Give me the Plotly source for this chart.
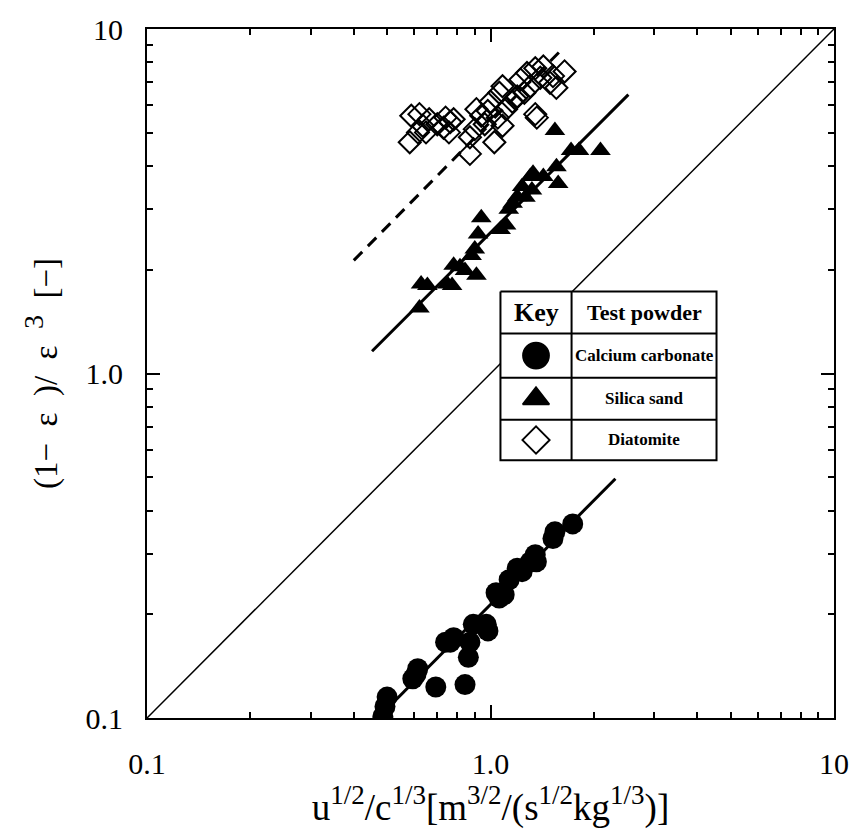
import plotly.graph_objects as go

# ---------------- data ----------------
calcium_x = [0.486, 0.493, 0.50, 0.594, 0.607, 0.614, 0.693, 0.843, 0.74, 0.764, 0.781,
             0.862, 0.871, 0.891, 0.972, 0.983, 1.038, 1.06, 1.096, 1.133, 1.196, 1.236,
             1.306, 1.35, 1.36, 1.52, 1.54, 1.735]
calcium_y = [0.101, 0.108, 0.115, 0.130, 0.134, 0.139, 0.123, 0.125, 0.166, 0.166, 0.171,
             0.150, 0.166, 0.187, 0.187, 0.179, 0.231, 0.223, 0.228, 0.252, 0.272, 0.266,
             0.284, 0.298, 0.284, 0.332, 0.347, 0.366]

silica_x = [0.621, 0.628, 0.655, 0.748, 0.773, 0.781, 0.815, 0.843, 0.881, 0.90, 0.91,
            0.92, 0.94, 1.07, 1.11, 1.13, 1.16, 1.196, 1.236, 1.264, 1.306, 1.32, 1.33,
            1.425, 1.54, 1.556, 1.574, 1.716, 1.81, 2.09]
silica_y = [1.55, 1.82, 1.80, 1.82, 1.80, 2.06, 2.04, 1.99, 2.20, 2.30, 1.93,
            2.54, 2.83, 2.62, 2.70, 3.00, 3.12, 3.26, 3.49, 3.25, 3.73, 3.41, 3.81,
            3.73, 5.07, 3.98, 3.56, 4.44, 4.44, 4.44]

diatomite_x = [0.582, 0.588, 0.615, 0.621, 0.635, 0.649, 0.663, 0.700, 0.73, 0.740, 0.757,
               0.764, 0.781, 0.871, 0.871, 0.90, 0.91, 0.94, 0.962, 0.982, 1.0, 1.026,
               1.05, 1.061, 1.084, 1.084, 1.11, 1.158, 1.18, 1.196, 1.223, 1.255, 1.277,
               1.306, 1.35, 1.396, 1.425, 1.49, 1.52, 1.555, 1.643, 1.35, 1.364]
diatomite_y = [4.69, 5.60, 5.01, 5.66, 5.24, 5.01, 5.47, 5.29, 5.17, 5.53, 5.01,
               5.37, 5.47, 4.34, 4.85, 5.12, 5.85, 5.60, 5.29, 5.78, 6.15, 4.69,
               5.53, 6.53, 6.82, 5.24, 5.85, 6.15, 6.28, 6.37, 7.13, 6.53, 7.45,
               6.82, 7.69, 7.22, 7.78, 6.98, 7.30, 6.75, 7.53, 5.66, 5.53]

# fitted lines (end points)
calcium_fit_x = [0.47, 2.31]
calcium_fit_y = [0.10, 0.495]
silica_fit_x = [0.452, 2.52]
silica_fit_y = [1.16, 6.45]
diatomite_fit_x = [0.40, 1.64]
diatomite_fit_y = [2.13, 8.87]
equality_x = [0.1, 10]
equality_y = [0.1, 10]

tick_vals = [0.1, 1, 10]
tick_text = ["0.1", "1.0", "10"]
minor_vals = [0.2, 0.3, 0.4, 0.5, 0.6, 0.7, 0.8, 0.9, 2, 3, 4, 5, 6, 7, 8, 9]

key_names = ["Calcium carbonate", "Silica sand", "Diatomite"]
key_symbols = ["circle", "triangle-up", "diamond-open"]

FONT = "Liberation Serif"

fig = go.Figure()

fig.add_trace(go.Scatter(x=equality_x, y=equality_y, mode="lines",
                         line=dict(color="black", width=1.5), showlegend=False))
fig.add_trace(go.Scatter(x=calcium_fit_x, y=calcium_fit_y, mode="lines",
                         line=dict(color="black", width=3), showlegend=False))
fig.add_trace(go.Scatter(x=silica_fit_x, y=silica_fit_y, mode="lines",
                         line=dict(color="black", width=3), showlegend=False))
fig.add_trace(go.Scatter(x=diatomite_fit_x, y=diatomite_fit_y, mode="lines",
                         line=dict(color="black", width=3, dash="12px,8px"),
                         showlegend=False))

fig.add_trace(go.Scatter(x=calcium_x, y=calcium_y, mode="markers",
                         marker=dict(symbol="circle", size=21, color="black"), showlegend=False))
fig.add_trace(go.Scatter(x=silica_x, y=silica_y, mode="markers",
                         marker=dict(symbol="triangle-up", size=18, color="black"), showlegend=False))
fig.add_trace(go.Scatter(x=diatomite_x, y=diatomite_y, mode="markers",
                         marker=dict(symbol="diamond-open", size=17, color="black",
                                     line=dict(width=2, color="black")), showlegend=False))

# ---------------- key table (overlay axes 0..1) ----------------
kx0, kxd, kx1 = 0.5145, 0.618, 0.829
ky = [0.619, 0.558, 0.494, 0.433, 0.374]
fig.add_trace(go.Scatter(x=[kx0, kx1, kx1, kx0, kx0], y=[ky[0], ky[0], ky[4], ky[4], ky[0]],
                         mode="lines", fill="toself", fillcolor="white",
                         line=dict(color="black", width=2), xaxis="x2", yaxis="y2",
                         showlegend=False, hoverinfo="skip"))
for yy in ky[1:4]:
    fig.add_trace(go.Scatter(x=[kx0, kx1], y=[yy, yy], mode="lines",
                             line=dict(color="black", width=2), xaxis="x2", yaxis="y2",
                             showlegend=False, hoverinfo="skip"))
fig.add_trace(go.Scatter(x=[kxd, kxd], y=[ky[0], ky[4]], mode="lines",
                         line=dict(color="black", width=2), xaxis="x2", yaxis="y2",
                         showlegend=False, hoverinfo="skip"))

kcx = (kx0 + kxd) / 2
tcx = (kxd + kx1) / 2
row_c = [(ky[i] + ky[i + 1]) / 2 for i in range(4)]
key_sizes = [26, 23, 21]
for i, (sym, sz) in enumerate(zip(key_symbols, key_sizes)):
    fig.add_trace(go.Scatter(x=[kcx], y=[row_c[i + 1]], mode="markers",
                             marker=dict(symbol=sym, size=sz, color="black",
                                         line=dict(width=1.8, color="black")),
                             xaxis="x2", yaxis="y2", showlegend=False, hoverinfo="skip"))

ann = [dict(x=kcx, y=row_c[0], text="<b>Key</b>", size=26),
       dict(x=tcx, y=row_c[0], text="<b>Test powder</b>", size=22)]
for i, name in enumerate(key_names):
    ann.append(dict(x=tcx, y=row_c[i + 1], text=f"<b>{name}</b>", size=17))
for a in ann:
    fig.add_annotation(xref="x2", yref="y2", showarrow=False, xanchor="center",
                       yanchor="middle", x=a["x"], y=a["y"], text=a["text"],
                       font=dict(family=FONT, color="black", size=a["size"]))

axis_common = dict(type="log", range=[-1, 1], showgrid=False, zeroline=False,
                   showline=True, linecolor="black", linewidth=2, mirror="ticks",
                   ticks="inside", ticklen=13, tickwidth=2, tickcolor="black",
                   tickvals=tick_vals, ticktext=tick_text,
                   tickfont=dict(family=FONT, size=30, color="black"),
                   minor=dict(tickvals=minor_vals, ticks="inside", ticklen=6,
                              tickwidth=1.5, tickcolor="black"))


def sup(t, px=27):
    return f"<sup><span style='font-size:{px}px'>{t}</span></sup>"


sp = "\u2002"
fig.update_layout(
    width=861, height=832,
    margin=dict(l=147, r=21, t=20, b=114),
    paper_bgcolor="white", plot_bgcolor="white",
    font=dict(family=FONT, color="black"),
    xaxis=dict(**axis_common, ticklabelstandoff=18,
               title=dict(text=f"u{sup('1/2')}/c{sup('1/3')}[m{sup('3/2')}/(s{sup('1/2')}kg{sup('1/3')})]",
                          font=dict(family=FONT, size=37), standoff=4)),
    yaxis=dict(**axis_common, ticklabelstandoff=16,
               title=dict(text=f"(1−{sp}ε{sp})/{sp}ε{sp}{sup('3', 28)}{sp}[−]",
                          font=dict(family=FONT, size=33), standoff=18)),
    xaxis2=dict(overlaying="x", range=[0, 1], visible=False, fixedrange=True),
    yaxis2=dict(overlaying="y", range=[0, 1], visible=False, fixedrange=True),
    showlegend=False,
)

fig.write_html("out.html")
